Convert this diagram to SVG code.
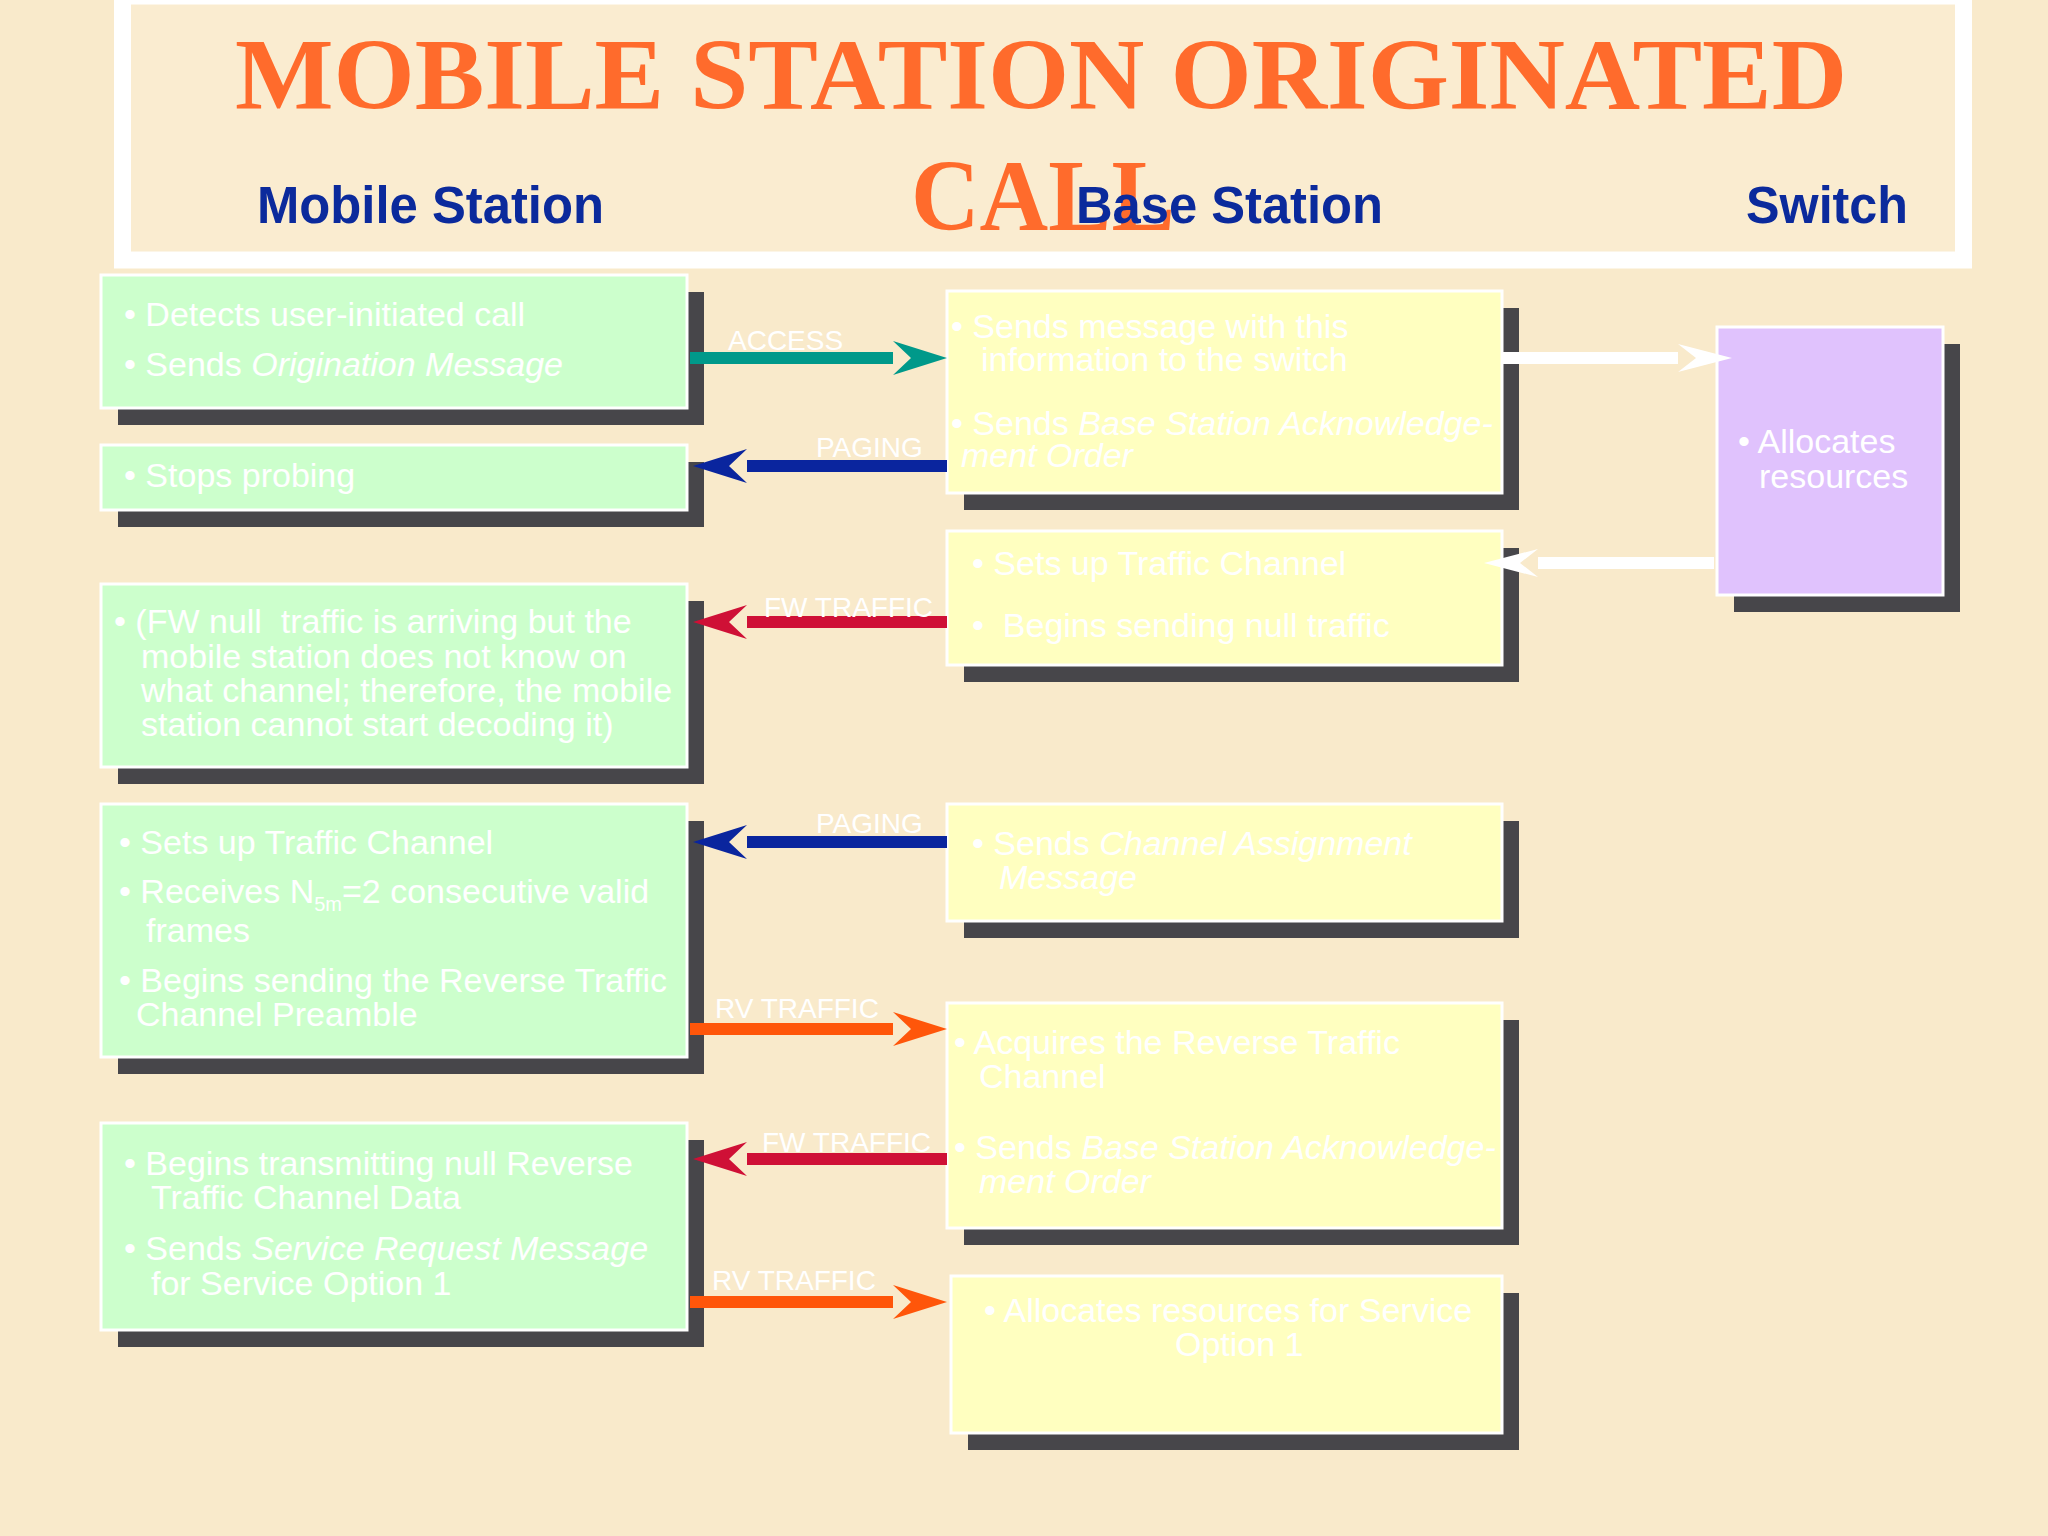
<svg xmlns="http://www.w3.org/2000/svg" width="2048" height="1536" viewBox="0 0 2048 1536">
<style>
.sh{fill:#47464A}
.g{fill:#CCFFCC;stroke:#FFFFFF;stroke-width:3}
.y{fill:#FFFFC0;stroke:#FFFFFF;stroke-width:3}
.p{fill:#E0C2FD;stroke:#FFFFFF;stroke-width:3}
.t{font-family:"Liberation Sans",Arial,sans-serif;font-size:34px;fill:#FFFFFF}
.lbl{font-family:"Liberation Sans",Arial,sans-serif;font-size:28px;fill:#FFFFFF}
.i{font-style:italic}
.h{font-family:"Liberation Sans",Arial,sans-serif;font-weight:bold;font-size:51px;fill:#0B2A9C}
.title{font-family:"Liberation Serif","Times New Roman",serif;font-weight:bold;font-size:102px;fill:#FF6B2C}
.c{fill:none;stroke-width:12}
</style>
<defs>
<marker id="mTeal" markerUnits="userSpaceOnUse" markerWidth="56" markerHeight="36" viewBox="0 0 56 36" refX="0" refY="17" orient="auto" overflow="visible"><path d="M54,17 L0,0 L18,17 L0,34 Z" fill="#00998A"/></marker>
<marker id="mBlue" markerUnits="userSpaceOnUse" markerWidth="56" markerHeight="36" viewBox="0 0 56 36" refX="0" refY="17" orient="auto" overflow="visible"><path d="M54,17 L0,0 L18,17 L0,34 Z" fill="#0A259E"/></marker>
<marker id="mRed" markerUnits="userSpaceOnUse" markerWidth="56" markerHeight="36" viewBox="0 0 56 36" refX="0" refY="17" orient="auto" overflow="visible"><path d="M54,17 L0,0 L18,17 L0,34 Z" fill="#CF1036"/></marker>
<marker id="mOrange" markerUnits="userSpaceOnUse" markerWidth="56" markerHeight="36" viewBox="0 0 56 36" refX="0" refY="17" orient="auto" overflow="visible"><path d="M54,17 L0,0 L18,17 L0,34 Z" fill="#FF560A"/></marker>
<marker id="mWhite" markerUnits="userSpaceOnUse" markerWidth="56" markerHeight="36" viewBox="0 0 56 36" refX="0" refY="17" orient="auto" overflow="visible"><path d="M54,17 L0,3 L18,17 L0,31 Z" fill="#FFFFFF"/></marker>
</defs>
<rect x="0" y="0" width="2048" height="1536" fill="#F9EACB"/>
<g id="title">
<rect x="122.5" y="-4" width="1841" height="264" fill="#FAECD0" stroke="#FFFFFF" stroke-width="17"/>
<text class="title" x="1041" y="109" text-anchor="middle" textLength="1612" lengthAdjust="spacingAndGlyphs">MOBILE STATION ORIGINATED</text>
<text class="title" x="1043" y="230" text-anchor="middle" textLength="264" lengthAdjust="spacingAndGlyphs">CALL</text>
<text class="h" x="257" y="223" textLength="347" lengthAdjust="spacingAndGlyphs">Mobile Station</text>
<text class="h" x="1076" y="223" textLength="307" lengthAdjust="spacingAndGlyphs">Base Station</text>
<text class="h" x="1746" y="223" textLength="162" lengthAdjust="spacingAndGlyphs">Switch</text>
</g>
<g id="ms1">
<rect class="sh" x="118" y="292" width="586" height="133"/>
<rect class="g" x="101" y="275" width="586" height="133"/>
<text class="t" x="124" y="326">• Detects user-initiated call</text>
<text class="t" x="124" y="376">• Sends <tspan class="i">Origination Message</tspan></text>
</g>
<g id="ms2">
<rect class="sh" x="118" y="462" width="586" height="65"/>
<rect class="g" x="101" y="445" width="586" height="65"/>
<text class="t" x="124" y="487">• Stops probing</text>
</g>
<g id="ms3">
<rect class="sh" x="118" y="601" width="586" height="183"/>
<rect class="g" x="101" y="584" width="586" height="183"/>
<text class="t" x="114" y="633" xml:space="preserve">• (FW null  traffic is arriving but the</text>
<text class="t" x="141" y="668">mobile station does not know on</text>
<text class="t" x="141" y="702">what channel; therefore, the mobile</text>
<text class="t" x="141" y="736">station cannot start decoding it)</text>
</g>
<g id="ms4">
<rect class="sh" x="118" y="821" width="586" height="253"/>
<rect class="g" x="101" y="804" width="586" height="253"/>
<text class="t" x="119" y="854">• Sets up Traffic Channel</text>
<text class="t" x="119" y="903">• Receives N<tspan font-size="20" dy="8">5m</tspan><tspan dy="-8">=2 consecutive valid</tspan></text>
<text class="t" x="146" y="942">frames</text>
<text class="t" x="119" y="992">• Begins sending the Reverse Traffic</text>
<text class="t" x="136" y="1026">Channel Preamble</text>
</g>
<g id="ms5">
<rect class="sh" x="118" y="1140" width="586" height="207"/>
<rect class="g" x="101" y="1123" width="586" height="207"/>
<text class="t" x="124" y="1175">• Begins transmitting null Reverse</text>
<text class="t" x="151" y="1209">Traffic Channel Data</text>
<text class="t" x="124" y="1260">• Sends <tspan class="i">Service Request Message</tspan></text>
<text class="t" x="151" y="1295">for Service Option 1</text>
</g>
<g id="bs1">
<rect class="sh" x="964" y="308" width="555" height="202"/>
<rect class="y" x="947" y="291" width="555" height="202"/>
<text class="t" x="951" y="338">• Sends message with this</text>
<text class="t" x="981" y="371">information to the switch</text>
<text class="t" x="951" y="435">• Sends <tspan class="i">Base Station Acknowledge-</tspan></text>
<text class="t i" x="961" y="467">ment Order</text>
</g>
<g id="bs2">
<rect class="sh" x="964" y="548" width="555" height="134"/>
<rect class="y" x="947" y="531" width="555" height="134"/>
<text class="t" x="972" y="575">• Sets up Traffic Channel</text>
<text class="t" x="972" y="637" xml:space="preserve">•  Begins sending null traffic</text>
</g>
<g id="bs3">
<rect class="sh" x="964" y="821" width="555" height="117"/>
<rect class="y" x="947" y="804" width="555" height="117"/>
<text class="t" x="972" y="855">• Sends <tspan class="i">Channel Assignment</tspan></text>
<text class="t i" x="999" y="889">Message</text>
</g>
<g id="bs4">
<rect class="sh" x="964" y="1020" width="555" height="225"/>
<rect class="y" x="947" y="1003" width="555" height="225"/>
<text class="t" x="954" y="1054">• Acquires the Reverse Traffic</text>
<text class="t" x="979" y="1088">Channel</text>
<text class="t" x="954" y="1159">• Sends <tspan class="i">Base Station Acknowledge-</tspan></text>
<text class="t i" x="979" y="1193">ment Order</text>
</g>
<g id="bs5">
<rect class="sh" x="968" y="1293" width="551" height="157"/>
<rect class="y" x="951" y="1276" width="551" height="157"/>
<text class="t" x="984" y="1322">• Allocates resources for Service</text>
<text class="t" x="1175" y="1356">Option 1</text>
</g>
<g id="sw">
<rect class="sh" x="1734" y="344" width="226" height="268"/>
<rect class="p" x="1717" y="327" width="226" height="268"/>
<text class="t" x="1738" y="453">• Allocates</text>
<text class="t" x="1759" y="488">resources</text>
</g>
<g id="connectors">
<path class="c" d="M690 358 H893" stroke="#00998A" marker-end="url(#mTeal)"/>
<path class="c" d="M947 466 H747" stroke="#0A259E" marker-end="url(#mBlue)"/>
<path class="c" d="M947 622 H747" stroke="#CF1036" marker-end="url(#mRed)"/>
<path class="c" d="M947 842 H747" stroke="#0A259E" marker-end="url(#mBlue)"/>
<path class="c" d="M690 1029 H893" stroke="#FF560A" marker-end="url(#mOrange)"/>
<path class="c" d="M947 1159 H747" stroke="#CF1036" marker-end="url(#mRed)"/>
<path class="c" d="M690 1302 H893" stroke="#FF560A" marker-end="url(#mOrange)"/>
<path class="c" d="M1502 358 H1678" stroke="#FFFFFF" marker-end="url(#mWhite)"/>
<path class="c" d="M1714 563 H1538" stroke="#FFFFFF" marker-end="url(#mWhite)"/>
<text class="lbl" x="728" y="350">ACCESS</text>
<text class="lbl" x="816" y="457">PAGING</text>
<text class="lbl" x="764" y="617">FW TRAFFIC</text>
<text class="lbl" x="816" y="833">PAGING</text>
<text class="lbl" x="715" y="1018">RV TRAFFIC</text>
<text class="lbl" x="762" y="1152">FW TRAFFIC</text>
<text class="lbl" x="712" y="1290">RV TRAFFIC</text>
</g>
</svg>
